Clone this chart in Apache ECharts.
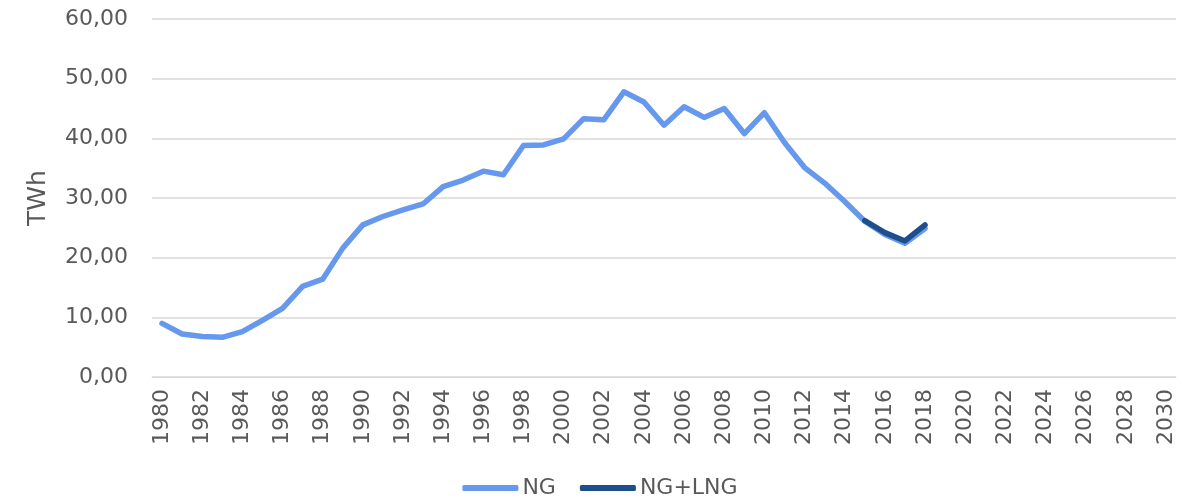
<!DOCTYPE html>
<html>
<head>
<meta charset="utf-8">
<script src="https://cdn.jsdelivr.net/npm/echarts@6/dist/echarts.min.js"></script>
<style>html,body{margin:0;padding:0;background:#fff;}#c{width:1200px;height:504px;}</style>
</head>
<body>
<div id="c"></div>
<script>
const years = [];
for (let y = 1980; y <= 2030; y++) years.push(String(y));
const ngValues = [9.0, 7.2, 6.8, 6.65, 7.6, 9.5, 11.5, 15.2, 16.4, 21.6, 25.5, 26.9, 28.0, 29.0, 31.9, 33.0, 34.5, 33.9, 38.8, 38.9, 39.9, 43.3, 43.1, 47.8, 46.1, 42.2, 45.3, 43.5, 45.0, 40.8, 44.3, 39.3, 35.1, 32.5, 29.4, 26.1, 23.9, 22.4, 24.9];
const ngLngValues = [26.2, 24.2, 22.8, 25.5];
const ngLngStartYear = 2015;
const yTicks = [0, 10, 20, 30, 40, 50, 60];

const ngData = years.map((y, i) => i < ngValues.length ? ngValues[i] : null);
const lngOffset = years.indexOf(String(ngLngStartYear));
const ngLngData = years.map((y, i) => (i >= lngOffset && i < lngOffset + ngLngValues.length) ? ngLngValues[i - lngOffset] : null);

const font = 'DejaVu Sans';
const textColor = '#595959';
const chart = echarts.init(document.getElementById('c'), null, {renderer: 'canvas'});
chart.setOption({
  animation: false,
  grid: {left: 152, right: 24, top: 19, bottom: 127, containLabel: false},
  legend: {
    bottom: 0,
    left: 'center',
    itemWidth: 56,
    itemHeight: 6,
    itemGap: 24,
    icon: 'roundRect',
    textStyle: {fontFamily: font, fontSize: 22, color: textColor, padding: [0, 0, 0, -1]},
    data: ['NG', 'NG+LNG']
  },
  xAxis: {
    type: 'category',
    data: years,
    boundaryGap: true,
    axisLine: {show: true, lineStyle: {color: '#d9d9d9', width: 1}},
    axisTick: {show: false},
    axisLabel: {interval: 1, rotate: 90, fontFamily: font, fontSize: 22, color: textColor, margin: 12}
  },
  yAxis: {
    type: 'value',
    min: yTicks[0],
    max: yTicks[yTicks.length - 1],
    interval: 10,
    name: 'TWh',
    nameLocation: 'middle',
    nameGap: 101,
    nameRotate: 90,
    nameTextStyle: {fontFamily: font, fontSize: 25, color: textColor},
    axisLine: {show: false},
    axisTick: {show: false},
    splitLine: {lineStyle: {color: '#d9d9d9', width: 1.5}},
    axisLabel: {fontFamily: font, fontSize: 22, color: textColor, margin: 24,
      formatter: v => v.toFixed(2).replace('.', ',')}
  },
  series: [
    {name: 'NG', type: 'line', data: ngData, symbol: 'none', connectNulls: false,
      lineStyle: {color: '#6699EE', width: 5.5, cap: 'round', join: 'round'}, itemStyle: {color: '#6699EE'}},
    {name: 'NG+LNG', type: 'line', data: ngLngData, symbol: 'none', connectNulls: false,
      lineStyle: {color: '#1F4E8C', width: 5.5, cap: 'round', join: 'round'}, itemStyle: {color: '#1F4E8C'}}
  ]
});
</script>
</body>
</html>
